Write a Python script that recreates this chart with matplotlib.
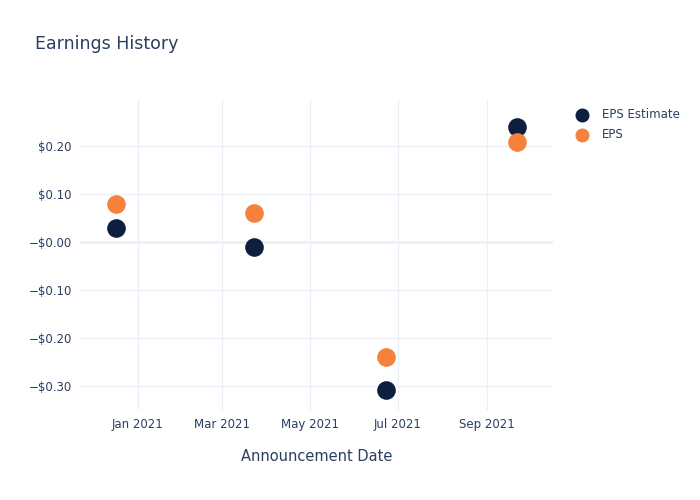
import matplotlib
matplotlib.use("Agg")
import matplotlib.pyplot as plt
import matplotlib.dates as mdates
import pandas as pd

dates = pd.to_datetime(["2020-12-17", "2021-03-23", "2021-06-23", "2021-09-22"])
eps_estimate = [0.03, -0.01, -0.31, 0.24]
eps_actual = [0.08, 0.06, -0.24, 0.21]
y_ticks = [-0.30, -0.20, -0.10, 0.0, 0.10, 0.20]
y_labels = ["\u2212$0.30", "\u2212$0.20", "\u2212$0.10", "\u2212$0.00", "$0.10", "$0.20"]

text_color = "#2a3f5f"
grid_color = "#ebf0f8"

fig = plt.figure(figsize=(7, 5), dpi=100)
ax = fig.add_axes([80 / 700, 1 - 410 / 500, (553 - 80) / 700, (410 - 100) / 500])

ax.scatter(dates, eps_estimate, s=180, color="#0d1f3f", label="EPS Estimate", zorder=3, linewidths=0)
ax.scatter(dates, eps_actual, s=180, color="#f6813a", label="EPS", zorder=3, linewidths=0)

ax.set_xlim(pd.Timestamp("2020-11-22"), pd.Timestamp("2021-10-17"))
ax.set_ylim(-0.351, 0.297)
ax.set_yticks(y_ticks)
ax.set_yticklabels(y_labels)
ax.xaxis.set_major_locator(mdates.MonthLocator(bymonth=[1, 3, 5, 7, 9]))
ax.xaxis.set_major_formatter(mdates.DateFormatter("%b %Y"))

ax.grid(True, color=grid_color, linewidth=1)
ax.axhline(0, color=grid_color, linewidth=2, zorder=1)
ax.set_axisbelow(True)
for s in ax.spines.values():
    s.set_visible(False)
ax.tick_params(length=0, colors=text_color, labelsize=8.5, pad=6)

ax.set_xlabel("Announcement Date", color=text_color, fontsize=10.5, labelpad=13)
fig.text(35 / 700, 1 - 44 / 500, "Earnings History", color=text_color, fontsize=12.5, va="center")

leg = ax.legend(loc="upper left", bbox_to_anchor=(1.013, 1.008), frameon=False,
                fontsize=8.5, labelcolor=text_color, handletextpad=0.7,
                labelspacing=0.55, markerscale=0.75)

fig.savefig("out.png", dpi=100)
